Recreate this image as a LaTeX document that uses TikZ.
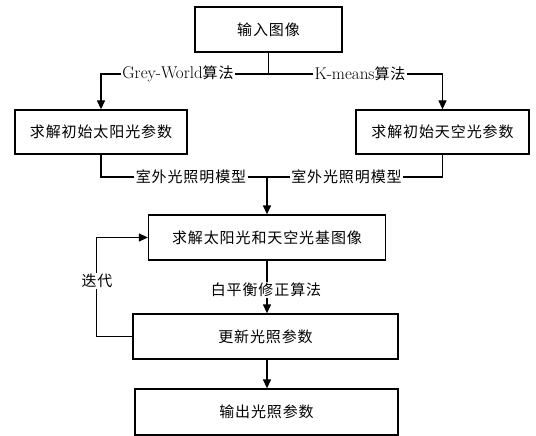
\documentclass[tikz,border=0pt]{standalone}
\usepackage{fontspec}
\newfontfamily\cjk{Noto Sans CJK SC}[LetterSpace=6]
\usetikzlibrary{arrows.meta}
\tikzset{
  box/.style={draw, line width=1.3pt, inner sep=0pt, font=\cjk\fontsize{15}{18}\selectfont},
  lbl/.style={fill=white, inner sep=1.5pt, font=\cjk\fontsize{15}{18}\selectfont},
  line/.style={line width=1.3pt},
  arr/.style={line width=1.3pt, -{Triangle[length=9pt,width=8pt]}},
}
\begin{document}
\begin{tikzpicture}[x=1pt,y=-1pt]
\useasboundingbox (0,0) rectangle (536,436);
\node[box, minimum width=147pt, minimum height=45pt] (in) at (268.5,29.5) {输入图像};
\node[box, minimum width=172pt, minimum height=44pt] (sun) at (101,132) {求解初始太阳光参数};
\node[box, minimum width=173pt, minimum height=44pt] (sky) at (442.5,132) {求解初始天空光参数};
\node[box, minimum width=237pt, minimum height=45pt] (base) at (267,237.5) {求解太阳光和天空光基图像};
\node[box, minimum width=265pt, minimum height=45pt] (upd) at (265.5,336.5) {更新光照参数};
\node[box, minimum width=263pt, minimum height=46pt] (out) at (266.5,412) {输出光照参数};
\coordinate (j1) at (268.5,74);
\coordinate (j2) at (267,177);
\draw[line] (in.south) -- (j1);
\draw[arr] (j1) -| (sun.north);
\draw[arr] (j1) -| (sky.north);
\draw[line] (sun.south) |- (j2);
\draw[line] (sky.south) |- (j2);
\draw[arr] (j2) -- (j2 |- base.north);
\draw[arr] (base.south) -- (base.south |- upd.north);
\draw[arr] (upd.south -| base.south) -- (base.south |- out.north);
\draw[arr] (upd.west) -- ++(-36,0) coordinate (lp) |- (base.west);
\node[lbl] (l1) at (178,74) {{\rmfamily\fontsize{17}{18}\selectfont Grey-World}算法};
\node[lbl] (l2) at (360,74) {{\rmfamily\fontsize{17}{18}\selectfont K-means}算法};
\node[lbl] (l3) at (191,177) {室外光照明模型};
\node[lbl] (l4) at (346.5,177) {室外光照明模型};
\node[lbl] (l5) at (266,290) {白平衡修正算法};
\node[lbl] (l6) at (97,281) {迭代};
\end{tikzpicture}
\end{document}
